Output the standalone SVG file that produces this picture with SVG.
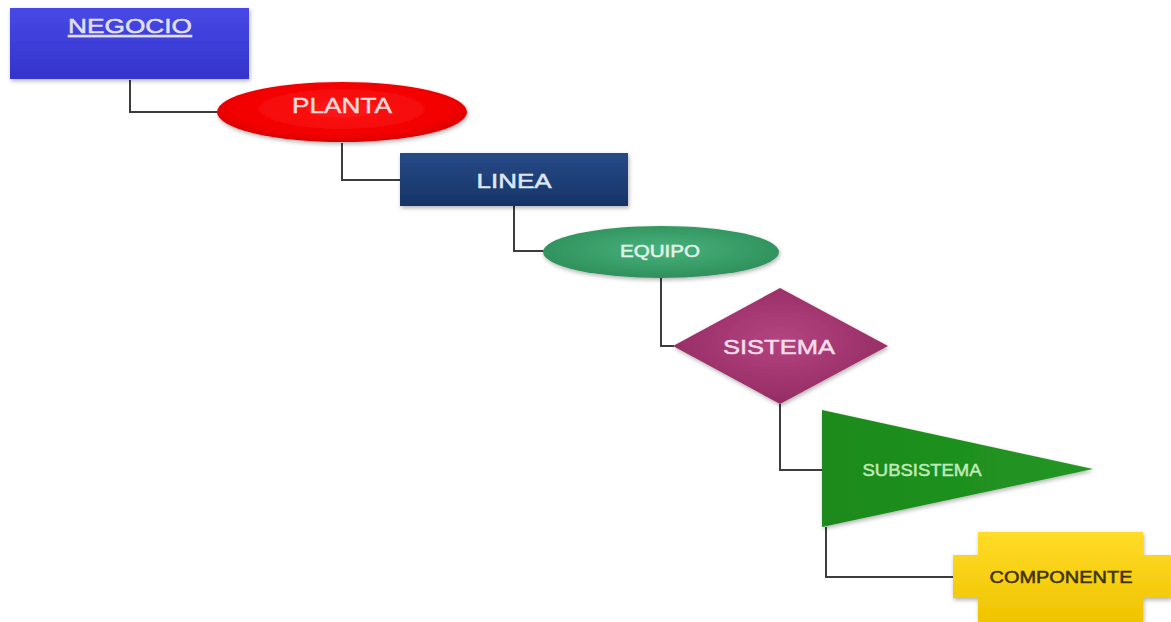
<svg xmlns="http://www.w3.org/2000/svg" width="1171" height="622" viewBox="0 0 1171 622">
<style>
.lbl{font-family:"Liberation Sans",Arial,sans-serif;text-anchor:middle;stroke-width:0.5}
.conn{fill:none;stroke:#3c3c3c;stroke-width:2}
</style>
<defs>
<linearGradient id="gBlue" x1="0" y1="0" x2="0" y2="1"><stop offset="0" stop-color="#4848e6"/><stop offset="1" stop-color="#3434cc"/></linearGradient>
<radialGradient id="gRed" cx="0.5" cy="0.45" r="0.55"><stop offset="0" stop-color="#ff1a1a"/><stop offset="0.8" stop-color="#f20000"/><stop offset="1" stop-color="#d80000"/></radialGradient>
<linearGradient id="gNavy" x1="0" y1="0" x2="0" y2="1"><stop offset="0" stop-color="#274a88"/><stop offset="1" stop-color="#163466"/></linearGradient>
<radialGradient id="gTeal" cx="0.5" cy="0.45" r="0.55"><stop offset="0" stop-color="#48b27c"/><stop offset="1" stop-color="#2f905c"/></radialGradient>
<radialGradient id="gMag" cx="0.5" cy="0.45" r="0.6"><stop offset="0" stop-color="#b44480"/><stop offset="1" stop-color="#922a62"/></radialGradient>
<linearGradient id="gGreen" x1="0" y1="0" x2="1" y2="0"><stop offset="0" stop-color="#1c8a1c"/><stop offset="1" stop-color="#229622"/></linearGradient>
<linearGradient id="gYel" x1="0" y1="0" x2="0" y2="1"><stop offset="0" stop-color="#ffdc28"/><stop offset="1" stop-color="#f0c400"/></linearGradient>
<filter id="sh" x="-10%" y="-10%" width="120%" height="130%"><feDropShadow dx="1" dy="2" stdDeviation="2" flood-color="#000" flood-opacity="0.3"/></filter>
</defs>
<rect width="1171" height="622" fill="#ffffff"/>
<g id="connectors">
<path class="conn" d="M130,80 V112 H218"/>
<path class="conn" d="M342,143 V180 H401"/>
<path class="conn" d="M514,206 V251 H544"/>
<path class="conn" d="M661,278 V346 H674"/>
<path class="conn" d="M780,404 V470 H823"/>
<path class="conn" d="M826,527 V577 H954"/>
</g>
<g id="negocio">
<rect x="10" y="8" width="239" height="71" fill="url(#gBlue)" filter="url(#sh)"/>
<text class="lbl" x="130" y="33" font-size="21" fill="#e0e0f2" stroke="#e0e0f2" textLength="124" lengthAdjust="spacingAndGlyphs" text-decoration="underline">NEGOCIO</text>
</g>
<g id="planta">
<ellipse cx="342" cy="112" rx="125" ry="30" fill="url(#gRed)" filter="url(#sh)"/>
<text class="lbl" x="342" y="113" font-size="22" fill="#f6d8d8" stroke="#f6d8d8" textLength="100" lengthAdjust="spacingAndGlyphs">PLANTA</text>
</g>
<g id="linea">
<rect x="400" y="153" width="228" height="53" fill="url(#gNavy)" filter="url(#sh)"/>
<text class="lbl" x="514" y="188" font-size="21" fill="#dfe8f4" stroke="#dfe8f4" textLength="75" lengthAdjust="spacingAndGlyphs">LINEA</text>
</g>
<g id="equipo">
<ellipse cx="661" cy="252" rx="118" ry="26" fill="url(#gTeal)" filter="url(#sh)"/>
<text class="lbl" x="660" y="257" font-size="17" fill="#e2f2ea" stroke="#e2f2ea" textLength="80" lengthAdjust="spacingAndGlyphs">EQUIPO</text>
</g>
<g id="sistema">
<polygon points="673,346 780,288 888,346 780,404" fill="url(#gMag)" filter="url(#sh)"/>
<text class="lbl" x="779" y="354" font-size="20" fill="#f4dcea" stroke="#f4dcea" textLength="112" lengthAdjust="spacingAndGlyphs">SISTEMA</text>
</g>
<g id="subsistema">
<polygon points="822,410 1093,469 822,527" fill="url(#gGreen)" filter="url(#sh)"/>
<text class="lbl" x="922" y="476" font-size="16.5" fill="#bfeab8" stroke="#bfeab8" textLength="119" lengthAdjust="spacingAndGlyphs">SUBSISTEMA</text>
</g>
<g id="componente">
<path d="M978,532 H1143 V555 H1171 V598 H1143 V622 H978 V598 H953 V555 H978 Z" fill="url(#gYel)" filter="url(#sh)"/>
<text class="lbl" x="1061" y="583" font-size="16.5" fill="#3e3200" stroke="#3e3200" textLength="143" lengthAdjust="spacingAndGlyphs">COMPONENTE</text>
</g>
</svg>
